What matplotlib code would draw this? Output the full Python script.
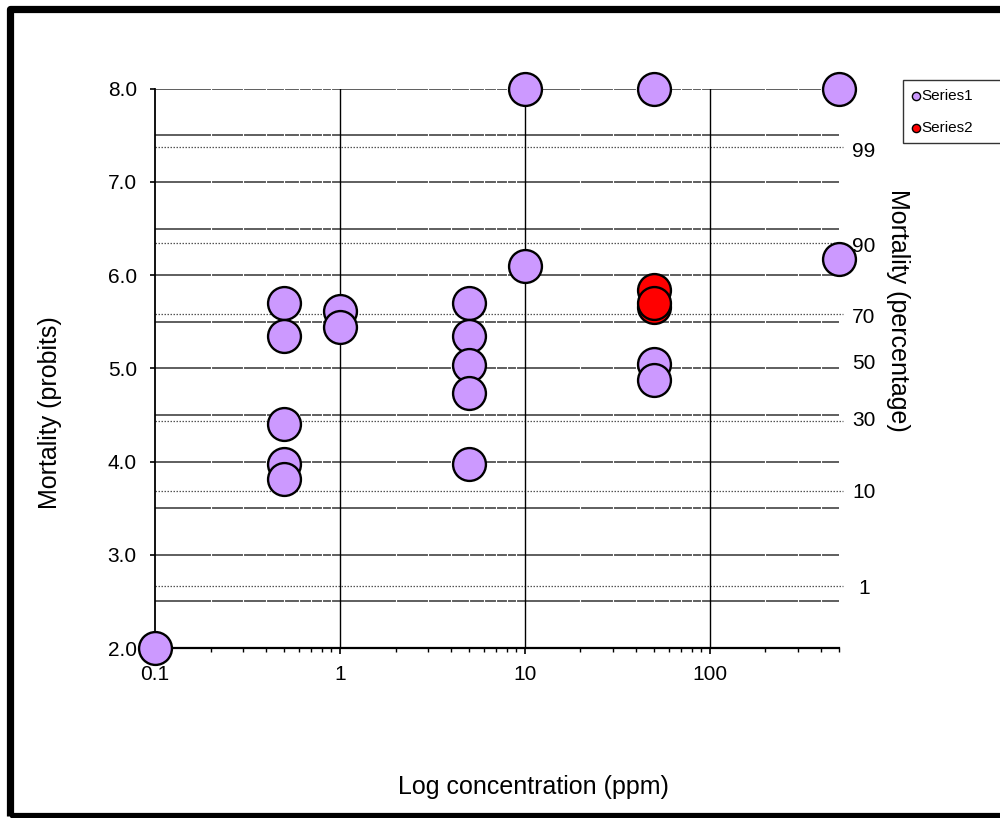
import numpy as np
import matplotlib
matplotlib.use("Agg")
import matplotlib.pyplot as plt
from matplotlib.patches import Rectangle
from matplotlib.ticker import FixedLocator, FixedFormatter, NullFormatter

plt.rcParams['font.family'] = ['Liberation Sans', 'DejaVu Sans']

# ---- data ----
s1_conc = [0.1, 0.5, 0.5, 0.5, 0.5, 0.5, 1, 1, 5, 5, 5, 5, 5, 10, 10, 50, 50, 50, 500, 500]
s1_probit = [2.0, 5.70, 5.35, 4.40, 3.97, 3.81, 5.62, 5.44, 5.70, 5.35, 5.04, 4.74, 3.97,
             8.0, 6.10, 8.0, 5.05, 4.88, 8.0, 6.17]
s2_conc = [50, 50, 50]
s2_probit = [5.84, 5.66, 5.70]

series_names = ["Series1", "Series2"]
series_colors = ["#CC99FF", "#FF0000"]

# percentage reference lines (dotted) and their labels on the right
pct_line_probit = [7.37, 6.34, 5.58, 4.44, 3.68, 2.66]
pct_labels = ["99", "90", "70", "50", "30", "10", "1"]
pct_label_probit = [7.33, 6.31, 5.55, 5.05, 4.44, 3.67, 2.64]

grid_probit = [2.5, 3.0, 3.5, 4.0, 4.5, 5.0, 5.5, 6.0, 6.5, 7.0, 7.5, 8.0]
x_major = [0.1, 1, 10, 100]
x_major_labels = ["0.1", "1", "10", "100"]
x_minor = [0.2, 0.3, 0.4, 0.5, 0.6, 0.7, 0.8, 0.9, 2, 3, 4, 5, 6, 7, 8, 9,
           20, 30, 40, 50, 60, 70, 80, 90, 200, 300, 400, 500]
y_ticks = [2.0, 3.0, 4.0, 5.0, 6.0, 7.0, 8.0]

fig = plt.figure(figsize=(10, 8.18), dpi=100)
ax = fig.add_axes([0.155, 0.2078, 0.684, 0.6838])
ax.set_xscale("log")
ax.set_xlim(0.1, 500)
ax.set_ylim(2.0, 8.0)

# horizontal grid lines
for g in grid_probit:
    ax.axhline(g, color="#333333", lw=1.1, zorder=1)
# white minor verticals break the horizontal lines like in the original
for m in x_minor[:-1]:
    ax.axvline(m, color="white", lw=0.8, zorder=1.2)
# dotted percentage lines
ax.hlines(pct_line_probit, 0.1, 525, colors="#555555", linestyles=(0, (1.2, 1.2)),
          lw=0.9, zorder=1.4, clip_on=False)
# major verticals
for m in x_major[1:]:
    ax.axvline(m, color="black", lw=1.0, zorder=1.5)

ax.scatter(s1_conc, s1_probit, s=560, c=series_colors[0], edgecolors="black",
           linewidths=1.7, zorder=3, clip_on=False, label=series_names[0])
ax.scatter(s2_conc, s2_probit, s=560, c=series_colors[1], edgecolors="black",
           linewidths=1.7, zorder=4, clip_on=False, label=series_names[1])

for sp in ["top", "right"]:
    ax.spines[sp].set_visible(False)
ax.spines["left"].set_linewidth(1.3)
ax.spines["bottom"].set_linewidth(1.6)

ax.xaxis.set_major_locator(FixedLocator(x_major))
ax.xaxis.set_major_formatter(FixedFormatter(x_major_labels))
ax.xaxis.set_minor_locator(FixedLocator(x_minor))
ax.xaxis.set_minor_formatter(NullFormatter())
ax.set_yticks(y_ticks)
ax.set_yticklabels(["%.1f" % v for v in y_ticks])
ax.tick_params(axis="y", which="major", direction="out", length=3.6, width=1.2,
               labelsize=15, colors="black", pad=9.5)
ax.tick_params(axis="x", which="major", direction="out", length=4.3, width=1.2,
               labelsize=15, colors="black", pad=8)
ax.tick_params(axis="x", which="minor", direction="out", length=3.0, width=1.0)

# right side percentage labels
for lab, v in zip(pct_labels, pct_label_probit):
    ax.text(1.0365, v, lab, transform=ax.get_yaxis_transform(), ha="center",
            va="center", fontsize=15)

fig.text(0.05, 0.495, "Mortality (probits)", rotation=90, ha="center", va="center",
         fontsize=18)
fig.text(0.898, 0.621, "Mortality (percentage)", rotation=270, ha="center",
         va="center", fontsize=18)
fig.text(0.533, 0.038, "Log concentration (ppm)", ha="center", va="center",
         fontsize=18)

leg = ax.legend(loc="upper left", bbox_to_anchor=(0.903, 0.825, 0.12, 0.077),
                bbox_transform=fig.transFigure, mode="expand", markerscale=0.25,
                fontsize=11, frameon=True, fancybox=False, handlelength=0.6,
                handletextpad=0.05, labelspacing=1.2, borderpad=0.55,
                borderaxespad=0)
leg.get_frame().set_edgecolor("black")
leg.get_frame().set_linewidth(1.0)
for h in leg.legend_handles:
    h.set_linewidth(1.0)

# outer black frame of the chart area
fig.patches.append(Rectangle((0.0095, 0.0025), 1.1, 0.986, transform=fig.transFigure,
                             fill=False, edgecolor="black", lw=5.2, joinstyle="round",
                             zorder=0))

fig.savefig("out.png", dpi=100)
